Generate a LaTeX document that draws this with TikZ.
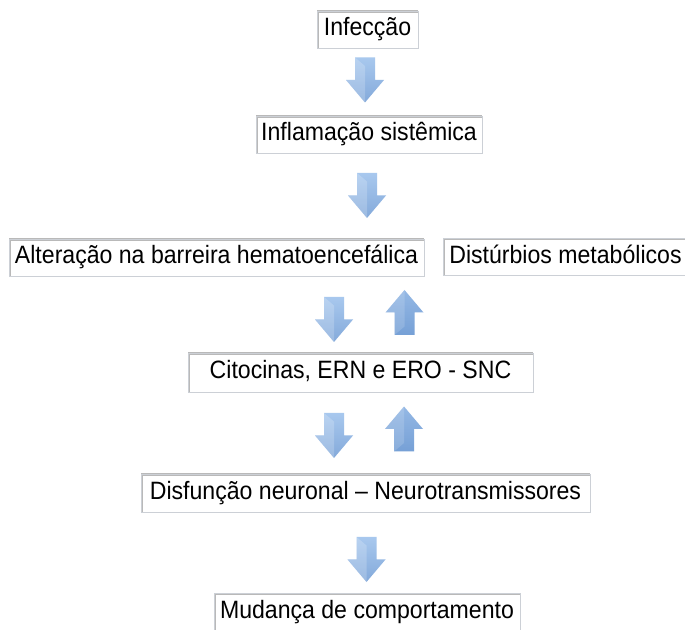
\documentclass[tikz,border=0pt]{standalone}
\usepackage{fontspec}
\setmainfont{Liberation Sans}[FakeStretch=0.92]
\definecolor{azulclaro}{RGB}{168,200,238}
\definecolor{azulmedio}{RGB}{118,160,214}
\definecolor{bordacinza}{RGB}{204,208,214}

\begin{document}
\begin{tikzpicture}[x=1pt,y=1pt]
\tikzset{caixa/.style={draw=bordacinza, fill=white, inner sep=0pt, minimum height=37pt,
  text height=18pt, text depth=5pt, font=\fontsize{25.1}{30}\selectfont,
  path picture={\draw[gray!55, line width=4pt] (path picture bounding box.south west)
  -- (path picture bounding box.north west) -- (path picture bounding box.north east);}},
  desce/.pic={\shade[top color=azulclaro, bottom color=azulmedio!90] (-10,22.5) -- (10,22.5)
  -- (10,0) -- (19,0) -- (0,-22.5) -- (-19,0) -- (-10,0) -- cycle;
  \fill[white, opacity=0.2] (-10,22.5) -- (0,14) -- (0,-22.5) -- (-19,0) -- (-10,0) -- cycle;},
  sobe/.pic={\shade[top color=azulclaro!60!azulmedio, bottom color=azulmedio] (-10,-22.5) -- (10,-22.5)
  -- (10,0) -- (19,0) -- (0,22.5) -- (-19,0) -- (-10,0) -- cycle;
  \fill[white, opacity=0.15] (-10,-22.5) -- (-10,0) -- (-19,0) -- (0,22.5) -- (0,-14) -- cycle;}}
\useasboundingbox (0,0) rectangle (685,629);
\clip (0,0) rectangle (685,629);
\fill[white] (0,0) rectangle (685,629);
\node[caixa, minimum width=101pt] (inf) at (367.5,599.5) {Infecção};
\node[caixa, minimum width=226pt] (infl) at (369,494.5) {Inflamação sistêmica};
\node[caixa, minimum width=415pt] (alt) at (216.5,371.5) {Alteração na barreira hematoencefálica};
\node[caixa, minimum width=245pt] (dist) at (565.5,372) {Distúrbios metabólicos};
\node[caixa, minimum width=345pt, minimum height=39pt] (cito) at (360.5,256.5) {Citocinas, ERN e ERO - SNC};
\node[caixa, minimum width=449pt, minimum height=38pt] (disf) at (365.5,136) {Disfunção neuronal – Neurotransmissores};
\node[caixa, minimum width=306pt, minimum height=38pt] (mud) at (367,17) {Mudança de comportamento};
\pic (s1) at (365,549) {desce};
\pic (s2) at (367,433.5) {desce};
\pic (s3) at (334,309.5) {desce};
\pic (s4) at (404.5,316.5) {sobe};
\pic (s5) at (334,193.5) {desce};
\pic (s6) at (404,200) {sobe};
\pic (s7) at (366.5,69.5) {desce};
\end{tikzpicture}
\end{document}
